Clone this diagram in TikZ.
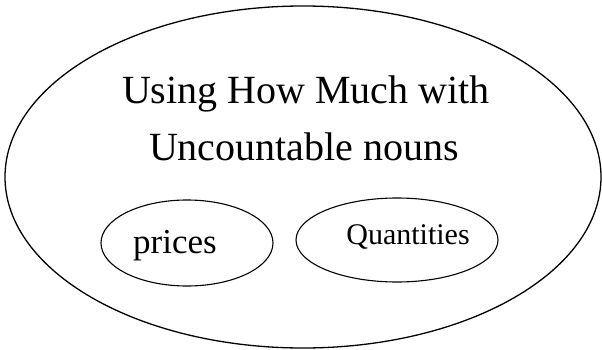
\documentclass[tikz,border=0pt]{standalone}
\usepackage{fontspec}
\setmainfont{Liberation Serif}
\usetikzlibrary{shapes.geometric}
\begin{document}
\begin{tikzpicture}[x=1pt,y=-1pt,
  oval/.style={draw=black,line width=1.3pt,ellipse,inner sep=0pt},
  lbl/.style={anchor=base,inner sep=0pt,text=black}]
\useasboundingbox (0,0) rectangle (602,350);
\node[oval,minimum width=596pt,minimum height=342pt] (big) at (303,177) {};
\node[lbl,font=\fontsize{40}{52}\selectfont] (t1) at (306,104) {Using How Much with};
\node[lbl,font=\fontsize{40}{52}\selectfont] (t2) at (304,160) {Uncountable nouns};
\node[oval,line width=1.1pt,minimum width=172pt,minimum height=86pt] (pe) at (187,243) {};
\node[oval,line width=1.1pt,minimum width=202pt,minimum height=84pt] (qe) at (397,240) {};
\node[lbl,font=\fontsize{35}{40}\selectfont] (p) at (175,253) {prices};
\node[lbl,font=\fontsize{30}{36}\selectfont] (q) at (408,244) {Quantities};
\end{tikzpicture}
\end{document}
